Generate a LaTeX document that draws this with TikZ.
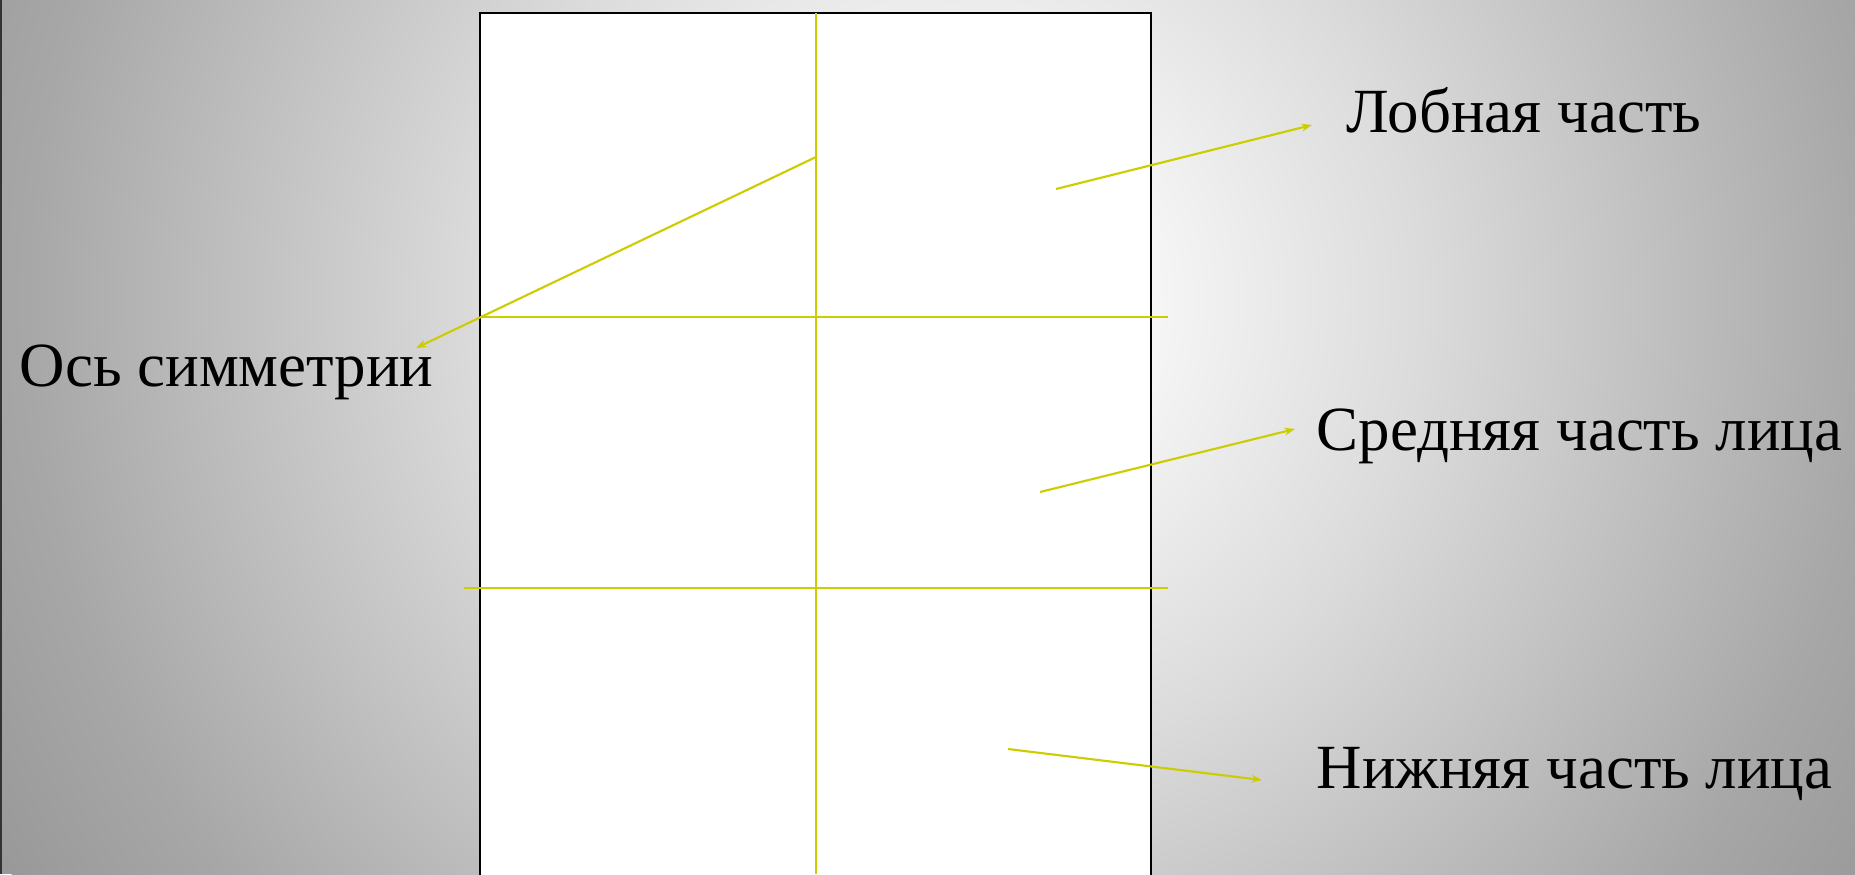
\documentclass[tikz,border=0pt]{standalone}
\usepackage{fontspec}
\setmainfont{Liberation Serif}
\usetikzlibrary{arrows.meta}

\definecolor{lineyellow}{RGB}{204,204,0}
\definecolor{bggray}{gray}{0.6}
% fondo: degradado radial del centro hacia los bordes
\pgfdeclareradialshading{slidebg}{\pgfpointorigin}{%
  rgb(0bp)=(1,1,1); rgb(3bp)=(0.99,0.99,0.99); rgb(10.7bp)=(0.86,0.86,0.86);
  rgb(21bp)=(0.655,0.655,0.655); rgb(25bp)=(0.6,0.6,0.6); rgb(50bp)=(0.6,0.6,0.6)}

\tikzset{
  guide/.style={lineyellow, line width=0.6pt},
  pointer/.style={guide, -{Stealth[length=3pt,width=2.2pt]}},
  label/.style={anchor=base west, inner sep=0pt, font=\fontsize{17.9}{20}\selectfont}
}

\begin{document}
\begin{tikzpicture}
  \useasboundingbox (0,0) rectangle (18.55,-8.74);
  \begin{scope}
    \clip (0,0) rectangle (18.55,-8.74);
    \fill[bggray] (0,0) rectangle (18.55,-8.74);
    \shade[shading=slidebg] (9.5,-3.0) circle (11);
    \draw[black!80, line width=0.8pt] (0.01,0) -- (0.01,-8.74);
  \end{scope}

  % hoja con las tres partes de la cara
  \filldraw[fill=white, draw=black, line width=0.6pt] (4.80,-9) -- (4.80,-0.13) -- (11.51,-0.13) -- (11.51,-9);

  \coordinate (axtop) at (8.16,-0.13);
  \coordinate (axbot) at (8.16,-8.74);
  \coordinate (l1a) at (4.80,-3.17);
  \coordinate (l1b) at (11.68,-3.17);
  \coordinate (l2a) at (4.64,-5.88);
  \coordinate (l2b) at (11.68,-5.88);
  \draw[guide] (axtop) -- (axbot);
  \draw[guide] (l1a) -- (l1b);
  \draw[guide] (l2a) -- (l2b);

  % textos
  \node[label] (forehead) at (13.46,-1.32) {Лобная часть};
  \node[label] (axis) at (0.19,-3.86) {Ось симметрии};
  \node[label] (middle) at (13.16,-4.50) {Средняя часть лица};
  \node[label] (lower) at (13.16,-7.88) {Нижняя часть лица};

  % flechas
  \coordinate (s0) at (8.16,-1.57);
  \coordinate (t0) at (4.16,-3.48);
  \coordinate (s1) at (10.56,-1.89);
  \coordinate (t1) at (13.12,-1.25);
  \coordinate (s2) at (10.40,-4.92);
  \coordinate (t2) at (12.95,-4.29);
  \coordinate (s3) at (10.08,-7.49);
  \coordinate (t3) at (12.62,-7.80);
  \draw[pointer] (s0) -- (t0);
  \draw[pointer] (s1) -- (t1);
  \draw[pointer] (s2) -- (t2);
  \draw[pointer] (s3) -- (t3);
\end{tikzpicture}
\end{document}
